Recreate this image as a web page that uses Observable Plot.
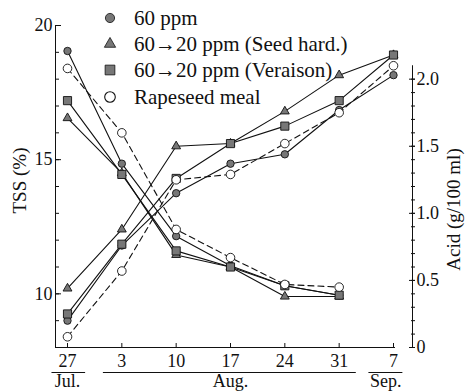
<!DOCTYPE html>
<html>
<head>
<meta charset="utf-8">
<script src="https://cdn.jsdelivr.net/npm/d3@7"></script>
<script src="https://cdn.jsdelivr.net/npm/@observablehq/plot@0.6"></script>
<style>
  body { margin: 0; background: #fff; }
  #wrap { position: relative; width: 469px; height: 392px; color: #111; }
  #legend { position: absolute; left: 0; top: 0; }
  .row { position: absolute; left: 101px; height: 22px; display: flex; align-items: center; font-size: 21px; white-space: nowrap; font-family: "Liberation Serif", "Times New Roman", serif; }
  .row svg { margin-right: 15px; overflow: visible; }
</style>
</head>
<body>
<div id="wrap"><div id="chart"></div><div id="legend"></div></div>
<script>
// ---- data ----
const dateStrings = ["2000-07-27", "2000-08-03", "2000-08-10", "2000-08-17", "2000-08-24", "2000-08-31", "2000-09-07"];
const xTickLabels = ["27", "3", "10", "17", "24", "31", "7"];
const seriesNames = ["60 ppm", "60\u219220 ppm (Seed hard.)", "60\u219220 ppm (Veraison)", "Rapeseed meal"];

// TSS (%) — left axis
const tss60   = [9.0, 11.8, 13.75, 14.85, 15.2, 16.85, 18.15];
const tssSeed = [10.2, 12.4, 15.5, 15.6, 16.8, 18.15, 18.9];
const tssVer  = [9.25, 11.85, 14.3, 15.6, 16.25, 17.2, 18.9];
const tssRape = [8.4, 10.85, 14.25, 14.45, 15.6, 16.75, 18.5];

// Acid (g/100 ml) — right axis
const acid60   = [2.21, 1.37, 0.83, 0.61, 0.46, 0.39];
const acidSeed = [1.71, 1.30, 0.69, 0.60, 0.38, 0.38];
const acidVer  = [1.84, 1.29, 0.72, 0.60, 0.46, 0.39];
const acidRape = [2.08, 1.60, 0.88, 0.67, 0.47, 0.45];

const tssTicks = [10, 15, 20];
const acidTicks = [0, 0.5, 1.0, 1.5, 2.0];
const monthNames = ["Jul.", "Aug.", "Sep."];
const monthMid = ["2000-07-27", "2000-08-17", "2000-09-06"];
const monthStart = ["2000-07-25", "2000-07-31T15:00", "2000-09-03T20:00"];
const monthEnd = ["2000-07-29T08:00", "2000-09-02T05:00", "2000-09-08T05:00"];

// ---- build ----
const dates = dateStrings.map(s => new Date(s + "T00:00Z"));
const toDate = s => new Date(s.length > 10 ? s + "Z" : s + "T00:00Z");
const tssMin = 8, tssMax = 20;
const acidToY = a => tssMin + 5 * a;   // acid 0 -> 8, acid 2.0 -> 18
const tssAll = [tss60, tssSeed, tssVer, tssRape];
const acidAll = [acid60, acidSeed, acidVer, acidRape];
const rows = [];
tssAll.forEach((arr, k) => arr.forEach((v, i) => rows.push({x: dates[i], y: v, k, kind: "tss"})));
acidAll.forEach((arr, k) => arr.forEach((v, i) => rows.push({x: dates[i], y: acidToY(v), k, kind: "acid"})));
const months = monthNames.map((n, i) => ({name: n, mid: toDate(monthMid[i]), start: toDate(monthStart[i]), end: toDate(monthEnd[i])}));

const symbols = ["circle", "triangle", "square", "circle"];
const radii = [3.7, 3.3, 4.6, 4.3];
const fills = ["#777", "#777", "#777", "white"];
const lastDate = dates[dates.length - 1];
const serif = "'Liberation Serif', 'Times New Roman', serif";

const marks = [
  Plot.frame({anchor: "left", stroke: "#111"}),
  Plot.ruleY([tssMin], {stroke: "#111"}),
  Plot.ruleX([lastDate], {y1: acidToY(0), y2: acidToY(2.1), dx: 19, stroke: "#111"}),
  // left axis
  Plot.axisY(d3.range(9, 20), {anchor: "left", label: null, tickSize: -4, tickFormat: () => ""}),
  Plot.axisY(tssTicks, {anchor: "left", label: null, tickSize: -6, tickPadding: 9, fontSize: 18, tickFormat: d => String(d)}),
  // right axis (acid)
  Plot.axisY(d3.range(0, 21).map(i => acidToY(i / 10)), {anchor: "right", label: null, dx: 19, tickSize: -4, tickFormat: () => ""}),
  Plot.axisY(acidTicks.map(acidToY), {anchor: "right", label: null, dx: 19, tickSize: -6, tickPadding: 8, fontSize: 18,
    tickFormat: d => { const a = (d - tssMin) / 5; return a === 0 ? "0" : a.toFixed(1); }}),
  // bottom axis
  Plot.axisX(dates, {anchor: "bottom", label: null, tickSize: -4, tickPadding: 11, fontSize: 18,
    tickFormat: d => xTickLabels[dates.findIndex(t => +t === +d)]}),
  Plot.ruleY(months, {x1: "start", x2: "end", y: () => tssMin, dy: 25, stroke: "#111"}),
  Plot.text(months, {x: "mid", text: "name", frameAnchor: "bottom", lineAnchor: "middle", dy: 34, fontSize: 18}),
  // axis titles
  Plot.text(["TSS (%)"], {frameAnchor: "left", textAnchor: "middle", rotate: -90, dx: -36, dy: -6, fontSize: 19}),
  Plot.text(["Acid (g/100 ml)"], {frameAnchor: "right", textAnchor: "middle", rotate: -90, dx: 58, dy: 23, fontSize: 19}),
];
// lines
for (const kind of ["tss", "acid"]) {
  for (let k = 0; k < 4; k++) {
    marks.push(Plot.line(rows.filter(d => d.kind === kind && d.k === k), {
      x: "x", y: "y", stroke: "#111", strokeWidth: 1.1,
      strokeDasharray: k === 3 ? "6,4" : null
    }));
  }
}
// markers
for (const kind of ["tss", "acid"]) {
  for (let k = 0; k < 4; k++) {
    marks.push(Plot.dot(rows.filter(d => d.kind === kind && d.k === k), {
      x: "x", y: "y", symbol: symbols[k], r: radii[k], fill: fills[k], stroke: "#111", strokeWidth: 0.9
    }));
  }
}

const chart = Plot.plot({
  width: 469,
  height: 392,
  marginLeft: 55,
  marginRight: 74,
  marginTop: 25,
  marginBottom: 45,
  style: {fontFamily: serif, fontSize: "18px", color: "#111", background: "white"},
  x: {type: "utc", domain: [dates[0], lastDate], range: [67, 393], axis: null},
  y: {domain: [tssMin, tssMax], axis: null},
  marks
});
document.getElementById("chart").appendChild(chart);

// legend overlay
const legend = document.getElementById("legend");
const rowY = [7, 33, 59, 86];
seriesNames.forEach((name, k) => {
  const div = document.createElement("div");
  div.className = "row";
  div.style.top = rowY[k] + "px";
  const size = 18;
  const sym = d3.symbol(symbols[k] === "circle" ? d3.symbolCircle : symbols[k] === "triangle" ? d3.symbolTriangle : d3.symbolSquare,
                        Math.PI * (k === 3 ? 5.3 : radii[k] + 0.9) ** 2)();
  div.innerHTML = `<svg width="${size}" height="${size}" viewBox="${-size/2} ${-size/2} ${size} ${size}"><path d="${sym}" fill="${k === 3 ? "white" : "#777"}" stroke="#111" stroke-width="${k === 3 ? 1.1 : 0.8}"/></svg><span>${name}</span>`;
  legend.appendChild(div);
});
</script>
</body>
</html>
